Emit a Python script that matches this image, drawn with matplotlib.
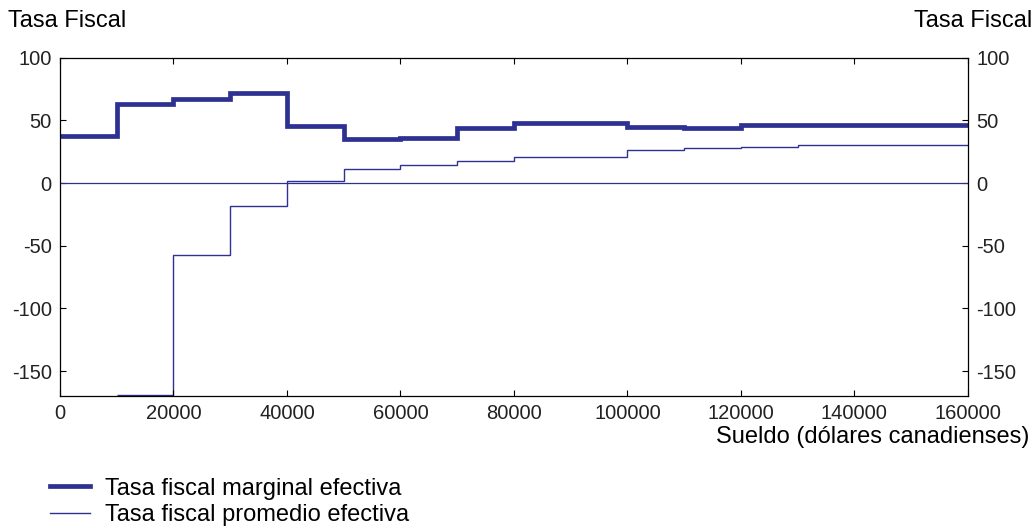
import matplotlib.pyplot as plt

plt.rcParams['font.family'] = ['Liberation Sans', 'DejaVu Sans']
plt.rcParams['axes.unicode_minus'] = False

# Tramos de sueldo (dólares canadienses)
bordes_marginal = [0, 10000, 20000, 30000, 40000, 50000, 60000, 70000, 80000,
                   100000, 110000, 120000, 160000]
tasa_marginal = [38, 63, 67, 72, 46, 35.5, 36, 44, 48, 45, 44, 46.5]

bordes_promedio = [10000, 20000, 30000, 40000, 50000, 60000, 70000, 80000,
                   100000, 110000, 120000, 130000, 160000]
tasa_promedio = [-169, -57, -18, 2, 11, 14.5, 17.5, 21, 26.5, 28, 29, 30.5]

xticks = [0, 20000, 40000, 60000, 80000, 100000, 120000, 140000, 160000]
yticks = [-150, -100, -50, 0, 50, 100]

azul = '#2E3192'

fig = plt.figure(figsize=(10.34, 5.26), dpi=100)
ax = fig.add_axes([0.058, 0.247, 0.878, 0.643])

ax.axhline(0, color=azul, lw=0.9)
l1 = ax.stairs(tasa_marginal, bordes_marginal, color=azul, lw=3.4,
               baseline=None, label='Tasa fiscal marginal efectiva')
l2 = ax.stairs(tasa_promedio, bordes_promedio, color=azul, lw=1.0,
               baseline=None, label='Tasa fiscal promedio efectiva')

ax.set_xlim(0, 160000)
ax.set_ylim(-170, 100)
ax.set_xticks(xticks)
ax.set_xticklabels([str(v) for v in xticks])
ax.set_yticks(yticks)
ax.tick_params(direction='in', labelsize=14.5, length=4, top=True, right=True,
               labelright=True, pad=6, labelcolor='#222222')
for s in ax.spines.values():
    s.set_linewidth(0.9)

fig.text(0.996, 0.169, 'Sueldo (dólares canadienses)', fontsize=17,
         ha='right', va='center')

fig.text(0.008, 0.96, 'Tasa Fiscal', fontsize=17, ha='left', va='center')
fig.text(0.998, 0.96, 'Tasa Fiscal', fontsize=17, ha='right', va='center')

fig.legend(handles=[l1, l2], loc='upper left', bbox_to_anchor=(0.048, 0.092),
           frameon=False, fontsize=17, handlelength=1.7, borderaxespad=0,
           borderpad=0, labelspacing=0.2, handletextpad=0.64)

fig.savefig('out.png', dpi=100)
